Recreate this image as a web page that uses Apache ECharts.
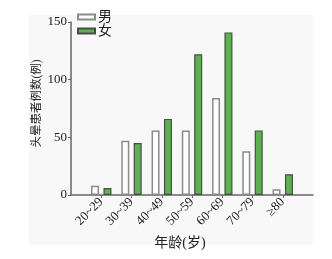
<!DOCTYPE html>
<html><head><meta charset="utf-8">
<script src="https://cdn.jsdelivr.net/npm/echarts@6/dist/echarts.min.js"></script>
<style>html,body{margin:0;padding:0;background:#fff}#c{width:332px;height:259px}</style>
</head><body><div id="c"></div>
<script>
var categories = ['20~29', '30~39', '40~49', '50~59', '60~69', '70~79', '≥80'];
var maleValues = [8, 47, 56, 56, 84, 38, 5];
var femaleValues = [6, 45, 66, 122, 141, 56, 18];
var yTicks = [0, 50, 100, 150];

var FONT = "Liberation Serif, Noto Sans CJK SC, serif";
var cats = [''].concat(categories, ['']);
var pad = function (a) { return [null].concat(a, [null]); };

var chart = echarts.init(document.getElementById('c'));
chart.setOption({
  animation: false,
  backgroundColor: '#ffffff',
  graphic: [{ type: 'rect', z: -10, shape: { x: 29, y: 15, width: 284, height: 230 }, style: { fill: '#f8f8f8' } }],
  grid: { left: 71, right: 19, top: 22, bottom: 64 },
  legend: {
    orient: 'vertical', left: 77, top: 10, padding: 0, itemWidth: 17, itemHeight: 5, itemGap: 0, icon: 'rect',
    textStyle: { fontFamily: FONT, fontSize: 14, color: '#222', padding: [0, 0, 0, -2] },
    data: ['男', '女']
  },
  xAxis: {
    type: 'category', boundaryGap: false, data: cats,
    name: '年龄(岁)', nameLocation: 'middle', nameGap: 41, nameMoveOverlap: false,
    nameTextStyle: { fontFamily: FONT, fontSize: 14, color: '#222', padding: [0, 24, 0, 0] },
    axisLine: { lineStyle: { color: '#666', width: 1.5 } },
    axisTick: { length: 3, lineStyle: { color: '#666' }, interval: function (i) { return i > 0 && i < cats.length - 1; } },
    axisLabel: { rotate: 45, interval: 0, fontFamily: FONT, fontSize: 13, color: '#222', margin: 5 },
    splitLine: { show: false }
  },
  yAxis: {
    type: 'value', min: yTicks[0], max: yTicks[yTicks.length - 1], interval: 50,
    name: '头晕患者例数(例)', nameLocation: 'middle', nameGap: 28, nameRotate: 90, nameMoveOverlap: false,
    nameTextStyle: { fontFamily: FONT, fontSize: 11.5, color: '#222', padding: [0, 0, 0, 10] },
    axisLine: { show: true, lineStyle: { color: '#666', width: 1.5 } },
    axisTick: { show: true, length: 3, lineStyle: { color: '#666' } },
    axisLabel: { fontFamily: FONT, fontSize: 13, color: '#222', margin: 4 },
    splitLine: { show: false }
  },
  series: [
    { name: '男', type: 'bar', data: pad(maleValues), barWidth: 8, barGap: '55%',
      itemStyle: { color: '#ffffff', borderColor: '#8a8a8a', borderWidth: 1.5 } },
    { name: '女', type: 'bar', data: pad(femaleValues), barWidth: 8,
      itemStyle: { color: '#5ab34c', borderColor: '#4a4a4a', borderWidth: 1.2 } }
  ]
});
</script></body></html>
